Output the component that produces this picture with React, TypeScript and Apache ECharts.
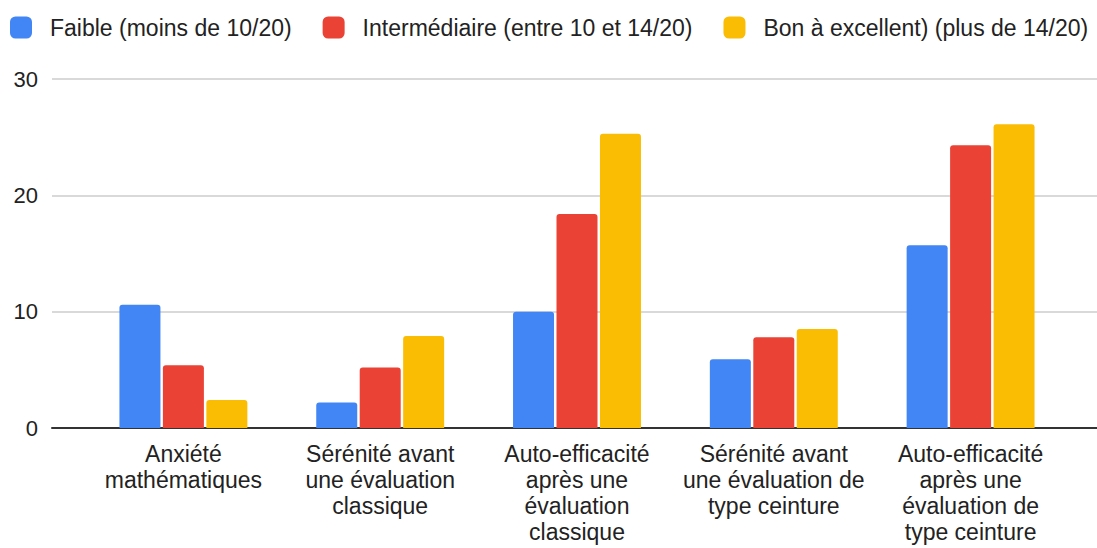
import React, { useEffect, useRef } from "react";
import * as echarts from "echarts";

const categories = [
  "Anxiété\nmathématiques",
  "Sérénité avant\nune évaluation\nclassique",
  "Auto-efficacité\naprès une\névaluation\nclassique",
  "Sérénité avant\nune évaluation de\ntype ceinture",
  "Auto-efficacité\naprès une\névaluation de\ntype ceinture",
];
const seriesNames = [
  "Faible (moins de 10/20)",
  "Intermédiaire (entre 10 et 14/20)",
  "Bon à excellent) (plus de 14/20)",
];
const faible = [10.6, 2.2, 10.0, 5.9, 15.7];
const intermediaire = [5.4, 5.2, 18.4, 7.8, 24.3];
const bon = [2.4, 7.9, 25.3, 8.5, 26.1];
const colors = ["#4285F4", "#EA4335", "#FBBC04"];
const yTicks = { min: 0, max: 30, interval: 10 };

const FONT = "'Liberation Sans', Arial, sans-serif";

export default function App() {
  const ref = useRef<HTMLDivElement>(null);
  useEffect(() => {
    if (!ref.current) return;
    const chart = echarts.init(ref.current, undefined, { renderer: "svg" });
    const values = [faible, intermediaire, bon];
    chart.setOption({
      animation: false,
      backgroundColor: "#ffffff",
      textStyle: { fontFamily: FONT },
      legend: {
        top: 16,
        left: 10,
        padding: 0,
        itemWidth: 22,
        itemHeight: 22,
        itemGap: 31,
        icon: "roundRect",
        textStyle: {
          fontSize: 23,
          color: "#222",
          fontFamily: FONT,
          padding: [0, 0, 0, 13],
        },
        data: seriesNames,
      },
      grid: [
        { left: 85, right: 28, top: 79, bottom: 120, outerBoundsMode: "none", containLabel: false },
        { left: 52, right: 0, top: 79, bottom: 120, outerBoundsMode: "none", containLabel: false },
      ],
      xAxis: [
        {
          type: "category",
          gridIndex: 0,
          data: categories,
          axisLine: { show: false },
          axisTick: { show: false },
          axisLabel: {
            fontSize: 23,
            color: "#222",
            lineHeight: 26,
            margin: 13,
            interval: 0,
            fontFamily: FONT,
          },
        },
        {
          type: "category",
          gridIndex: 1,
          data: ["a"],
          axisLine: { show: true, lineStyle: { color: "#333", width: 2 } },
          axisTick: { show: false },
          axisLabel: { show: false },
        },
      ],
      yAxis: [
        {
          type: "value",
          gridIndex: 0,
          ...yTicks,
          axisLabel: { show: false },
          splitLine: { show: false },
          axisLine: { show: false },
          axisTick: { show: false },
        },
        {
          type: "value",
          gridIndex: 1,
          ...yTicks,
          axisLabel: { fontSize: 22, color: "#222", margin: 14, fontFamily: FONT },
          splitLine: { lineStyle: { color: "#cccccc", width: 1.5 } },
          axisLine: { show: false },
          axisTick: { show: false },
        },
      ],
      series: [
        ...seriesNames.map((name, i) => ({
          name,
          type: "bar",
          xAxisIndex: 0,
          yAxisIndex: 0,
          data: values[i],
          barWidth: 41,
          barGap: "6%",
          z: 3,
          itemStyle: { color: colors[i], borderRadius: [3, 3, 0, 0] },
        })),
      ],
    });
    return () => chart.dispose();
  }, []);
  return (
    <div
      ref={ref}
      style={{ position: "fixed", left: 0, top: 0, width: 1097, height: 548 }}
    />
  );
}
